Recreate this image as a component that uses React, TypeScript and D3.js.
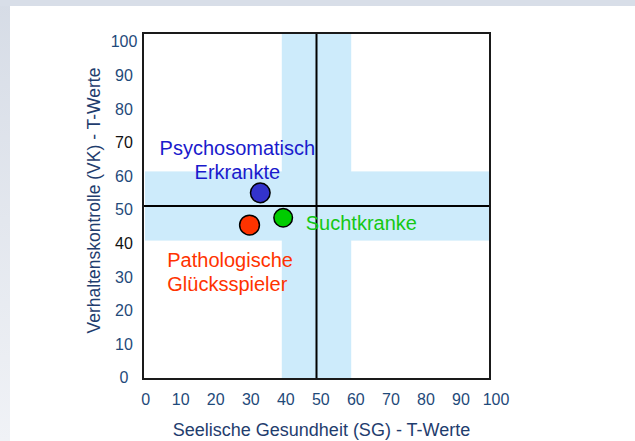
import React, { useRef, useEffect } from "react";
import * as d3 from "d3";

// groups: x = Seelische Gesundheit, y = Verhaltenskontrolle (T-Werte)
const groupNames = ["Psychosomatisch Erkrankte", "Suchtkranke", "Pathologische Glücksspieler"];
const sgValues = [33.8, 40.4, 30.7];
const vkValues = [53.8, 46.6, 44.5];
const groupColors = ["#3333cc", "#00cc00", "#ff3300"];
const labelColors = ["#1a1acc", "#14c814", "#ff3300"];

const tickValues = [0, 10, 20, 30, 40, 50, 60, 70, 80, 90, 100];
const normLow = 40;
const normHigh = 60;
const normMean = 50;

export default function App() {
  const svgRef = useRef<SVGSVGElement | null>(null);

  useEffect(() => {
    const width = 635,
      height = 441;
    const frame = { left: 143, right: 490, top: 33, bottom: 379 };
    const font = "'Liberation Sans', Arial, sans-serif";

    const svg = d3.select(svgRef.current);
    svg.selectAll("*").remove();

    // slide background
    const defs = svg.append("defs");
    const grad = defs
      .append("linearGradient")
      .attr("id", "side")
      .attr("x1", 0)
      .attr("y1", 0)
      .attr("x2", 0)
      .attr("y2", 1);
    grad.append("stop").attr("offset", "0%").attr("stop-color", "#d6dce6");
    grad.append("stop").attr("offset", "100%").attr("stop-color", "#f0f2f6");
    svg.append("rect").attr("width", width).attr("height", height).attr("fill", "url(#side)");
    svg.append("rect").attr("width", width).attr("height", 6).attr("fill", "#d8dee8");
    svg
      .append("rect")
      .attr("x", 10)
      .attr("y", 6)
      .attr("width", width - 10)
      .attr("height", height - 6)
      .attr("fill", "#ffffff");

    const x = d3.scaleLinear().domain([0, 100]).range([frame.left, frame.right]);
    const y = d3.scaleLinear().domain([0, 100]).range([frame.bottom, frame.top]);

    // tick labels are placed a bit off the frame in the original
    const xLab = d3.scaleLinear().domain([0, 100]).range([145.7, 496]);
    const yLab = d3.scaleLinear().domain([0, 100]).range([377.7, 41.7]);

    // norm bands (40-60)
    svg
      .append("rect")
      .attr("x", x(normLow))
      .attr("y", y(100))
      .attr("width", x(normHigh) - x(normLow))
      .attr("height", y(0) - y(100))
      .attr("fill", "#cdebfb");
    svg
      .append("rect")
      .attr("x", x(0) + 2)
      .attr("y", y(normHigh))
      .attr("width", x(100) - x(0) - 3)
      .attr("height", y(normLow) - y(normHigh))
      .attr("fill", "#cdebfb");

    // mean lines
    svg
      .append("line")
      .attr("x1", x(normMean))
      .attr("x2", x(normMean))
      .attr("y1", y(100))
      .attr("y2", y(0))
      .attr("stroke", "#000")
      .attr("stroke-width", 2);
    svg
      .append("line")
      .attr("x1", x(0))
      .attr("x2", x(100) + 1)
      .attr("y1", y(normMean))
      .attr("y2", y(normMean))
      .attr("stroke", "#000")
      .attr("stroke-width", 2);

    // frame
    svg
      .append("rect")
      .attr("x", x(0))
      .attr("y", y(100))
      .attr("width", x(100) - x(0))
      .attr("height", y(0) - y(100))
      .attr("fill", "none")
      .attr("stroke", "#1a1a1a")
      .attr("stroke-width", 2);

    // tick labels
    svg
      .append("g")
      .selectAll("text")
      .data(tickValues)
      .join("text")
      .attr("x", (d) => xLab(d))
      .attr("y", 405)
      .attr("text-anchor", "middle")
      .style("font", `16px ${font}`)
      .attr("fill", "#1f4a7a")
      .text((d) => d);

    svg
      .append("g")
      .selectAll("text")
      .data(tickValues)
      .join("text")
      .attr("x", 124)
      .attr("y", (d) => yLab(d))
      .attr("dy", "0.36em")
      .attr("text-anchor", "middle")
      .style("font", `16px ${font}`)
      .attr("fill", (d) => (d === 70 || d === 40 ? "#111111" : "#1f4a7a"))
      .text((d) => d);

    // axis titles
    svg
      .append("text")
      .attr("x", 321.5)
      .attr("y", 436)
      .attr("text-anchor", "middle")
      .style("font", `18px ${font}`)
      .attr("fill", "#1f3d6e")
      .text("Seelische Gesundheit (SG) - T-Werte");

    svg
      .append("text")
      .attr("transform", "translate(100, 200.5) rotate(-90)")
      .attr("text-anchor", "middle")
      .style("font", `17.5px ${font}`)
      .attr("fill", "#1f3d6e")
      .text("Verhaltenskontrolle (VK) - T-Werte");

    // group points
    const radii = [9.8, 9.3, 9.9];
    svg
      .append("g")
      .selectAll("circle")
      .data(groupNames)
      .join("circle")
      .attr("cx", (d, i) => x(sgValues[i]))
      .attr("cy", (d, i) => y(vkValues[i]))
      .attr("r", (d, i) => radii[i])
      .attr("fill", (d, i) => groupColors[i])
      .attr("stroke", "#000")
      .attr("stroke-width", 1.5);

    // group labels (anchored in data space)
    const labels = [
      { lines: ["Psychosomatisch", "Erkrankte"], lx: 27.2, ly: 64.7, anchor: "middle" },
      { lines: ["Suchtkranke"], lx: 46.9, ly: 43.1, anchor: "start" },
      { lines: ["Pathologische", "Glücksspieler"], lx: 7, ly: 32.5, anchor: "start" },
    ];
    labels.forEach((l, i) => {
      const t = svg
        .append("text")
        .attr("x", x(l.lx))
        .attr("y", y(l.ly))
        .attr("text-anchor", l.anchor)
        .style("font", `20px ${font}`)
        .attr("fill", labelColors[i]);
      l.lines.forEach((line, j) => {
        t.append("tspan")
          .attr("x", x(l.lx))
          .attr("dy", j === 0 ? 0 : 24)
          .text(line);
      });
    });
  }, []);

  return (
    <svg
      ref={svgRef}
      width="635"
      height="441"
      style={{ position: "absolute", left: 0, top: 0 }}
    ></svg>
  );
}
